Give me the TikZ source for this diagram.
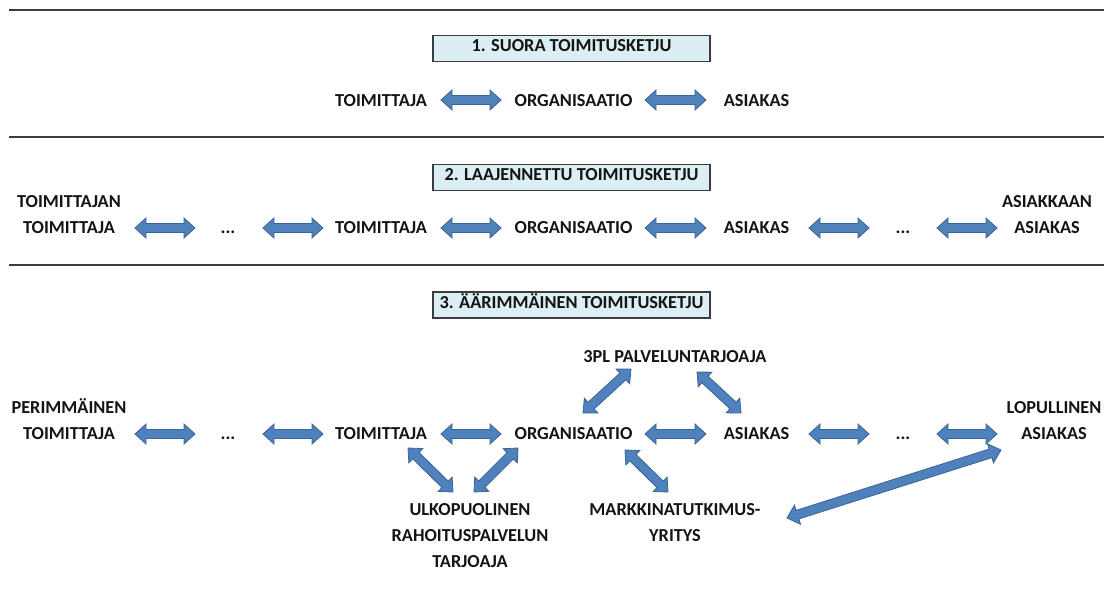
\documentclass[tikz,border=0pt]{standalone}
\usepackage{fontspec}
\setmainfont{Carlito}
\usetikzlibrary{calc}

\definecolor{arrowfill}{HTML}{4F81BD}
\definecolor{arrowedge}{HTML}{3A6494}
\definecolor{titlefill}{HTML}{DBEEF4}
\definecolor{rulegray}{HTML}{3C3C3C}
\definecolor{inkblack}{HTML}{141414}

% Double-headed block arrow between two coordinate expressions
\newcommand\blockarrow[2]{%
  \coordinate (ba-s) at #1;
  \coordinate (ba-e) at #2;
  \coordinate (ba-a) at ($(ba-s)!11pt!(ba-e)$);
  \coordinate (ba-b) at ($(ba-e)!11pt!(ba-s)$);
  \filldraw[blockarrowstyle] (ba-s)
    -- ($(ba-a)!10pt!90:(ba-e)$) -- ($(ba-a)!4.5pt!90:(ba-e)$)
    -- ($(ba-b)!4.5pt!-90:(ba-s)$) -- ($(ba-b)!10pt!-90:(ba-s)$)
    -- (ba-e)
    -- ($(ba-b)!10pt!90:(ba-s)$) -- ($(ba-b)!4.5pt!90:(ba-s)$)
    -- ($(ba-a)!4.5pt!-90:(ba-e)$) -- ($(ba-a)!10pt!-90:(ba-e)$)
    -- cycle;
}

\tikzset{
  blockarrowstyle/.style={fill=arrowfill, draw=arrowedge, line width=0.8pt, line join=miter},
  lbl/.style={inner sep=0pt, font=\fontsize{18.3}{26}\selectfont\bfseries, text=inkblack, anchor=base},
  lbl2/.style={lbl, align=center, anchor=south, text depth=0pt},
  titlebox/.style={inner sep=0pt, font=\fontsize{18.3}{26}\selectfont\bfseries, text=inkblack,
    fill=titlefill, draw=rulegray, line width=1.5pt, minimum width=277pt, minimum height=26pt,
    text height=0.63em, text depth=0pt},
  sectionrule/.style={draw=rulegray, line width=1.5pt},
}

\begin{document}
\begin{tikzpicture}[x=1pt, y=-1pt]
\useasboundingbox (0,0) rectangle (1109,595);

% section separators
\draw[sectionrule] (9,10) -- (1104,10);
\draw[sectionrule] (9,137) -- (1104,137);
\draw[sectionrule] (9,265) -- (1104,265);

% ---------- 1. direct supply chain ----------
\node[titlebox] (h1) at (571.5,48.5) {1. SUORA TOIMITUSKETJU};
\node[lbl] (t1) at (381,106) {TOIMITTAJA};
\node[lbl] (o1) at (573.5,106) {ORGANISAATIO};
\node[lbl] (a1) at (756.5,106) {ASIAKAS};
\blockarrow{([shift={(60,-6)}]t1.base)}{([shift={(-72.5,-6)}]o1.base)}
\blockarrow{([shift={(71.5,-6)}]o1.base)}{([shift={(-50.5,-6)}]a1.base)}

% ---------- 2. extended supply chain ----------
\node[titlebox] (h2) at (571.5,177.5) {2. LAAJENNETTU TOIMITUSKETJU};
\node[lbl2] (s2) at (69,233.5) {TOIMITTAJAN\\TOIMITTAJA};
\node[lbl] (e2a) at (228,233.5) {...};
\node[lbl] (t2) at (381,233.5) {TOIMITTAJA};
\node[lbl] (o2) at (573.5,233.5) {ORGANISAATIO};
\node[lbl] (a2) at (756.5,233.5) {ASIAKAS};
\node[lbl] (e2b) at (903,233.5) {...};
\node[lbl2] (c2) at (1047,233.5) {ASIAKKAAN\\ASIAKAS};
\blockarrow{([shift={(66,-5.5)}]s2.south)}{([shift={(-33,-5.5)}]e2a.base)}
\blockarrow{([shift={(35,-5.5)}]e2a.base)}{([shift={(-58,-5.5)}]t2.base)}
\blockarrow{([shift={(60,-5.5)}]t2.base)}{([shift={(-72.5,-5.5)}]o2.base)}
\blockarrow{([shift={(71.5,-5.5)}]o2.base)}{([shift={(-50.5,-5.5)}]a2.base)}
\blockarrow{([shift={(52.5,-5.5)}]a2.base)}{([shift={(-34,-5.5)}]e2b.base)}
\blockarrow{([shift={(34,-5.5)}]e2b.base)}{([shift={(-50,-5.5)}]c2.south)}

% ---------- 3. ultimate supply chain ----------
\node[titlebox] (h3) at (571.5,305) {3. ÄÄRIMMÄINEN TOIMITUSKETJU};
\node[lbl2] (s3) at (69,439.5) {PERIMMÄINEN\\TOIMITTAJA};
\node[lbl] (e3a) at (228,439.5) {...};
\node[lbl] (t3) at (381,439.5) {TOIMITTAJA};
\node[lbl] (o3) at (573.5,439.5) {ORGANISAATIO};
\node[lbl] (a3) at (756.5,439.5) {ASIAKAS};
\node[lbl] (e3b) at (903,439.5) {...};
\node[lbl2] (c3) at (1054,439.5) {LOPULLINEN\\ASIAKAS};
\node[lbl] (p3) at (675,362.5) {3PL PALVELUNTARJOAJA};
\node[lbl2] (f3) at (470,567.5) {ULKOPUOLINEN\\RAHOITUSPALVELUN\\TARJOAJA};
\node[lbl2] (m3) at (675,541.5) {MARKKINATUTKIMUS-\\YRITYS};

\blockarrow{([shift={(66,-5.5)}]s3.south)}{([shift={(-33,-5.5)}]e3a.base)}
\blockarrow{([shift={(35,-5.5)}]e3a.base)}{([shift={(-58,-5.5)}]t3.base)}
\blockarrow{([shift={(60,-5.5)}]t3.base)}{([shift={(-72.5,-5.5)}]o3.base)}
\blockarrow{([shift={(71.5,-5.5)}]o3.base)}{([shift={(-50.5,-5.5)}]a3.base)}
\blockarrow{([shift={(52.5,-5.5)}]a3.base)}{([shift={(-34,-5.5)}]e3b.base)}
\blockarrow{([shift={(34,-5.5)}]e3b.base)}{([shift={(-57,-5.5)}]c3.south)}

\blockarrow{([shift={(9.5,-26.5)}]o3.base)}{([shift={(-44,6.5)}]p3.base)}
\blockarrow{([shift={(22,9.5)}]p3.base)}{([shift={(-15.5,-26.5)}]a3.base)}
\blockarrow{([shift={(27,8.5)}]t3.base)}{([shift={(-17,-75.5)}]f3.south)}
\blockarrow{([shift={(4,-75.5)}]f3.south)}{([shift={(-55.5,8.5)}]o3.base)}
\blockarrow{([shift={(51.5,10.5)}]o3.base)}{([shift={(-7,-49.5)}]m3.south)}
\blockarrow{([shift={(112,-23.5)}]m3.south)}{([shift={(-53,10.5)}]c3.south)}
\end{tikzpicture}
\end{document}
